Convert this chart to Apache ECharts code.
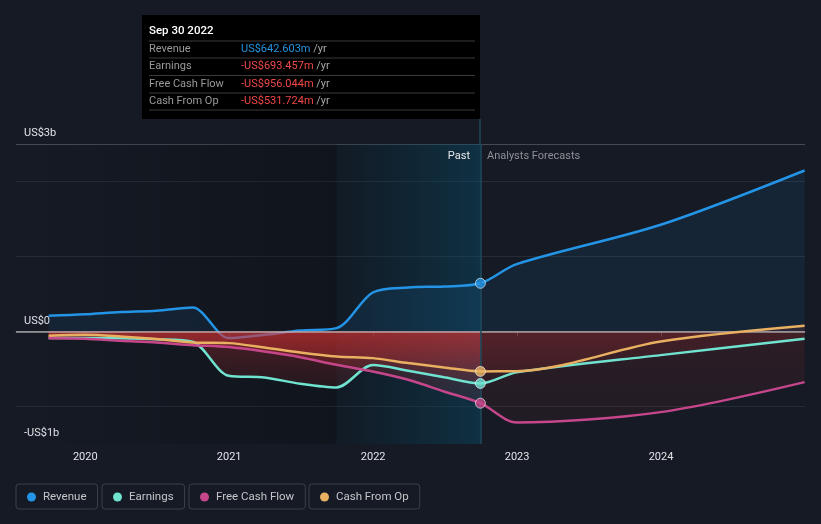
<!DOCTYPE html>
<html><head><meta charset="utf-8">
<script src="https://cdn.jsdelivr.net/npm/echarts@6/dist/echarts.min.js"></script>
<style>html,body{margin:0;padding:0;background:#151a24;}#c{width:821px;height:524px;}</style>
</head><body><div id="c"></div>
<script>
// ---- data (values in US$ millions) ----
const dates = ['2019-09-30','2019-12-31','2020-03-31','2020-06-30','2020-09-30','2020-12-31','2021-03-31','2021-06-30','2021-09-30','2021-12-31','2022-03-31','2022-06-30','2022-09-30','2022-12-31','2023-12-31','2024-12-31'];
const lastPastIndex = 12;
const revenue      = [209, 229, 259, 276, 320, -88, -44, 13, 45, 520, 587, 600, 642.603, 898, 1423, 2147];
const earnings     = [-88, -88, -91, -104, -137, -591, -613, -697, -747, -448, -524, -611, -693.457, -545, -315, -97];
const freeCashFlow = [-90, -97, -124, -147, -182, -208, -267, -342, -444, -533, -644, -800, -956.044, -1213, -1075, -675];
const cashFromOp   = [-57, -44, -67, -101, -147, -155, -213, -280, -333, -355, -421, -480, -531.724, -530, -133, 76];
const seriesNames  = ['Revenue', 'Earnings', 'Free Cash Flow', 'Cash From Op'];
const xTickYears   = [2020, 2021, 2022, 2023, 2024];
const yTickLabels  = {'-1500': '-US$1b', '0': 'US$0', '2500': 'US$3b'};
const highlightStart = '2021-09-30';
const xMin = 2019.519, xMax = 2025.0;
const yMin = -1500, yMax = 2500, yInterval = 500;

// ---- helpers ----
function decYear(s){
  const p = s.split('-').map(Number);
  const a = Date.UTC(p[0],0,1), b = Date.UTC(p[0]+1,0,1);
  return p[0] + (Date.UTC(p[0],p[1]-1,p[2]) - a) / (b - a);
}
const xs = dates.map(decYear);
const pts = arr => arr.map((v,i) => [xs[i], v]);
const colors = ['#2394e6', '#70e2d0', '#c6468c', '#e8b060'];
const allData = [revenue, earnings, freeCashFlow, cashFromOp];
const SMOOTH = 0.3;
const grad = (top, bottom) => ({type:'linear', x:0, y:0, x2:0, y2:1, colorStops:[{offset:0, color:top},{offset:1, color:bottom}]});
const hgrad = (l, r) => ({type:'linear', x:0, y:0, x2:1, y2:0, colorStops:[{offset:0, color:l},{offset:1, color:r}]});
const fmt = v => (v < 0 ? '-US$' : 'US$') + Math.abs(v).toFixed(3) + 'm';
const MONTHS = ['Jan','Feb','Mar','Apr','May','Jun','Jul','Aug','Sep','Oct','Nov','Dec'];
function fmtDate(s){ const p = s.split('-'); return MONTHS[+p[1]-1] + ' ' + (+p[2]) + ' ' + p[0]; }

const FONT = 'Roboto, "Noto Sans", sans-serif';
const chart = echarts.init(document.getElementById('c'), null, {renderer:'canvas'});

const series = [];
series.push({
  type:'line', name:'bg', data:[], z:1, silent:true,
  markArea:{silent:true, data:[
    [{xAxis:xMin, itemStyle:{color:hgrad('rgba(0,0,0,0)','rgba(0,0,0,0.22)')}}, {xAxis:decYear(highlightStart)}],
    [{xAxis:decYear(highlightStart), itemStyle:{color:hgrad('rgba(0,30,45,0.15)','rgba(0,70,100,0.32)')}}, {xAxis:xs[lastPastIndex]}]
  ]},
  markLine:{silent:true, symbol:'none', label:{show:false}, lineStyle:{color:'rgba(200,200,200,0.55)', width:2, type:'solid'}, data:[{yAxis:0}]}
});
series.push({
  type:'line', name:seriesNames[0], data:pts(revenue), z:3, smooth:SMOOTH,
  symbol:'none', lineStyle:{color:colors[0], width:2.5}, itemStyle:{color:colors[0]},
  areaStyle:{color:'rgba(33,150,243,0.13)'}
});
[1,2,3].forEach(k => {
  const d = pts(allData[k]);
  series.push({type:'line', name:seriesNames[k]+' past area', data:d.slice(0, lastPastIndex+1), z:4, smooth:SMOOTH,
    symbol:'none', silent:true, lineStyle:{width:0}, areaStyle:{color:grad('rgba(225,50,50,0.4)','rgba(225,50,50,0.13)')}});
  series.push({type:'line', name:seriesNames[k]+' forecast area', data:d.slice(lastPastIndex), z:4, smooth:SMOOTH,
    symbol:'none', silent:true, lineStyle:{width:0}, areaStyle:{color:grad('rgba(225,50,50,0.17)','rgba(225,50,50,0.08)')}});
});
[1,2,3].forEach(k => {
  series.push({type:'line', name:seriesNames[k], data:pts(allData[k]), z:5, smooth:SMOOTH,
    symbol:'none', lineStyle:{color:colors[k], width:2.5}, itemStyle:{color:colors[k]}});
});
series.push({
  type:'line', name:'overlay', data:[], z:6, silent:true,
  markArea:{silent:true, data:[
    [{xAxis:decYear(highlightStart), itemStyle:{color:hgrad('rgba(20,100,130,0.0)','rgba(20,100,130,0.15)')}}, {xAxis:xs[lastPastIndex]}]
  ]},
  markLine:{silent:true, symbol:'none', label:{show:false}, lineStyle:{color:'#1f4b5f', width:1.5, type:'solid'}, data:[{xAxis:xs[lastPastIndex]}]}
});
series.push({
  type:'scatter', name:'dots', z:8, silent:true, symbolSize:10,
  data: allData.map((a,k) => ({value:[xs[lastPastIndex], a[lastPastIndex]], itemStyle:{color:colors[k], borderColor:'rgba(255,255,255,0.75)', borderWidth:1}}))
});

const legendLefts = [16, 102, 189, 309];
const legends = seriesNames.map((n,i) => ({
  data:[n], left:legendLefts[i], top:484, orient:'horizontal', icon:'circle', itemWidth:9, itemHeight:9,
  padding:[7,11,6,11], borderColor:'#3a3f48', borderWidth:1, borderRadius:3, selectedMode:false,
  textStyle:{color:'#c4c6ca', fontSize:11.5, fontFamily:FONT, padding:[0,0,0,2]}
}));

chart.setOption({
  backgroundColor:'#151a24',
  animation:false,
  textStyle:{fontFamily:FONT},
  grid:{left:16, right:16, top:144, bottom:80, containLabel:false},
  xAxis:{type:'value', min:xMin, max:xMax,
    axisLine:{show:true, lineStyle:{color:'#444a54', width:1}},
    axisTick:{show:true, customValues:xTickYears, length:5, lineStyle:{color:'#444a54'}},
    axisLabel:{customValues:xTickYears, formatter:v => String(v), color:'#e2e4e8', fontSize:11, margin:8, fontFamily:FONT},
    splitLine:{show:false}},
  yAxis:{type:'value', min:yMin, max:yMax, interval:yInterval,
    axisLine:{show:false}, axisTick:{show:false},
    axisLabel:{inside:true, showMinLabel:true, showMaxLabel:true, formatter:v => yTickLabels[String(v)] || '', color:'#e2e4e8', fontSize:11,
      margin:8, verticalAlign:'bottom', padding:[0,0,5,0], fontFamily:FONT},
    splitLine:{show:true, lineStyle:{width:1, color:['rgba(0,0,0,0)','#262c36','rgba(0,0,0,0)','rgba(0,0,0,0)','rgba(0,0,0,0)','#262c36','rgba(0,0,0,0)','#262c36','#444a54']}}},
  legend:legends,
  series:series
});

const bx = chart.convertToPixel({gridIndex:0}, [xs[lastPastIndex], yMax]);
const boundaryX = Math.round(bx[0]);
const gridTop = bx[1];
const boxLeft = 142, boxTop = 15, boxBottom = 119;
const rowValues = allData.map(a => a[lastPastIndex]);
const rowYs = [49, 66, 84, 101];
const g = [];
g.push({type:'line', shape:{x1:boundaryX, y1:boxBottom, x2:boundaryX, y2:gridTop}, style:{stroke:'#1f4b5f', lineWidth:1.5}, z:5});
g.push({type:'rect', shape:{x:boxLeft, y:boxTop, width:boundaryX - boxLeft, height:boxBottom - boxTop}, style:{fill:'#000'}, z:10});
g.push({type:'text', x:149, y:31, style:{text:fmtDate(dates[lastPastIndex]), fill:'#ffffff', font:'500 11.5px ' + FONT, verticalAlign:'middle'}, z:11});
[41, 58, 75.5, 93, 110].forEach(y => g.push({type:'line', shape:{x1:149, y1:y, x2:boundaryX-5, y2:y}, style:{stroke:'#3a3a3a', lineWidth:1}, z:11}));
seriesNames.forEach((l,i) => {
  g.push({type:'text', x:149, y:rowYs[i], style:{text:l, fill:'#9a9a9a', font:'11px ' + FONT, verticalAlign:'middle'}, z:11});
  const v = rowValues[i];
  g.push({type:'text', x:241, y:rowYs[i], style:{
    text:'{v|' + fmt(v) + '}{u| /yr}', verticalAlign:'middle', font:'11px ' + FONT,
    rich:{v:{fill:v < 0 ? '#f04848' : '#2394df', font:'11px ' + FONT}, u:{fill:'#a8a8a8', font:'11px ' + FONT}}}, z:11});
});
g.push({type:'text', x:boundaryX - 10, y:gridTop + 12, style:{text:'Past', fill:'#e8e8e8', font:'11px ' + FONT, align:'right', verticalAlign:'middle'}, z:11});
g.push({type:'text', x:boundaryX + 7, y:gridTop + 12, style:{text:'Analysts Forecasts', fill:'#8e9196', font:'11px ' + FONT, align:'left', verticalAlign:'middle'}, z:11});
chart.setOption({graphic:{elements:g}});
</script>
</body></html>
